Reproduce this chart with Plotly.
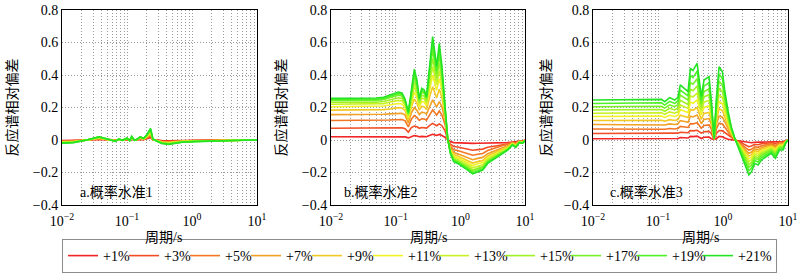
import plotly.graph_objects as go

levels = ["+1%", "+3%", "+5%", "+7%", "+9%", "+11%", "+13%", "+15%", "+17%", "+19%", "+21%"]
colors = ["#F22424", "#F24D24", "#F27624", "#F2A024", "#F2C924", "#F2F224",
          "#C9F224", "#A0F224", "#76F224", "#4DF224", "#24E224"]

panel_titles = ["a.概率水准1", "b.概率水准2", "c.概率水准3"]
x_tick_vals = [0.01, 0.1, 1, 10]
x_tick_labels = ["10<sup>−2</sup>", "10<sup>−1</sup>", "10<sup>0</sup>", "10<sup>1</sup>"]
y_tick_vals = [-0.4, -0.2, 0, 0.2, 0.4, 0.6, 0.8]
y_tick_labels = ["−0.4", "−0.2", "0", "0.2", "0.4", "0.6", "0.8"]

# ---------------- panel a ----------------
period_a = [0.01, 0.015, 0.025, 0.037, 0.05, 0.066, 0.075, 0.085, 0.1, 0.11, 0.118, 0.13, 0.145, 0.16,
            0.18, 0.2, 0.23, 0.25, 0.29, 0.345, 0.44, 0.55, 0.7, 1.1, 2.0, 3.6, 6.0, 10]
a_vals = [
    [-0.004, -0.003, 0.0, 0.004, 0.001, -0.002, 0.001, 0.0, 0.002, -0.001, 0.004, 0.0, 0.001, 0.004, 0.002, 0.006, 0.014, 0.001, -0.002, -0.004, -0.005, -0.004, -0.003, -0.002, -0.001, -0.001, 0.0, 0],
    [-0.006, -0.005, 0.001, 0.006, 0.002, -0.002, 0.002, -0.001, 0.004, -0.001, 0.007, -0.001, 0.002, 0.006, 0.003, 0.009, 0.022, 0.002, -0.002, -0.007, -0.008, -0.006, -0.004, -0.003, -0.002, -0.001, -0.001, 0],
    [-0.008, -0.006, 0.001, 0.008, 0.002, -0.003, 0.002, -0.001, 0.005, -0.002, 0.009, -0.001, 0.002, 0.008, 0.004, 0.012, 0.029, 0.002, -0.003, -0.009, -0.011, -0.008, -0.006, -0.004, -0.002, -0.002, -0.001, 0],
    [-0.01, -0.008, 0.001, 0.01, 0.003, -0.004, 0.003, -0.001, 0.006, -0.002, 0.011, -0.001, 0.003, 0.01, 0.005, 0.015, 0.036, 0.003, -0.004, -0.011, -0.014, -0.01, -0.007, -0.005, -0.003, -0.002, -0.001, 0],
    [-0.012, -0.009, 0.001, 0.012, 0.003, -0.005, 0.003, -0.001, 0.007, -0.002, 0.013, -0.001, 0.003, 0.012, 0.006, 0.017, 0.042, 0.003, -0.005, -0.013, -0.016, -0.012, -0.008, -0.006, -0.003, -0.002, -0.001, 0],
    [-0.013, -0.011, 0.001, 0.013, 0.004, -0.005, 0.004, -0.001, 0.008, -0.003, 0.015, -0.001, 0.004, 0.013, 0.007, 0.02, 0.048, 0.004, -0.005, -0.015, -0.018, -0.013, -0.009, -0.007, -0.004, -0.003, -0.001, 0],
    [-0.015, -0.012, 0.001, 0.015, 0.004, -0.006, 0.004, -0.001, 0.009, -0.003, 0.016, -0.001, 0.004, 0.015, 0.007, 0.022, 0.053, 0.004, -0.006, -0.016, -0.02, -0.015, -0.01, -0.007, -0.004, -0.003, -0.001, 0],
    [-0.016, -0.013, 0.002, 0.016, 0.005, -0.006, 0.005, -0.002, 0.01, -0.003, 0.018, -0.002, 0.005, 0.016, 0.008, 0.024, 0.058, 0.005, -0.006, -0.018, -0.022, -0.016, -0.011, -0.008, -0.005, -0.003, -0.002, 0],
    [-0.018, -0.014, 0.002, 0.018, 0.005, -0.007, 0.005, -0.002, 0.011, -0.004, 0.019, -0.002, 0.005, 0.018, 0.009, 0.026, 0.063, 0.005, -0.007, -0.019, -0.024, -0.018, -0.012, -0.009, -0.005, -0.004, -0.002, 0],
    [-0.019, -0.015, 0.002, 0.019, 0.006, -0.008, 0.006, -0.002, 0.011, -0.004, 0.021, -0.002, 0.006, 0.019, 0.009, 0.028, 0.068, 0.006, -0.008, -0.021, -0.025, -0.019, -0.013, -0.009, -0.006, -0.004, -0.002, 0],
    [-0.02, -0.016, 0.002, 0.02, 0.006, -0.008, 0.006, -0.002, 0.012, -0.004, 0.022, -0.002, 0.006, 0.02, 0.01, 0.03, 0.072, 0.006, -0.008, -0.022, -0.027, -0.02, -0.014, -0.01, -0.006, -0.004, -0.002, 0],
]

# ---------------- panel b ----------------
period_b = [0.01, 0.03, 0.05, 0.065, 0.08, 0.095, 0.11, 0.125, 0.14, 0.157, 0.175, 0.194, 0.213, 0.232,
            0.253, 0.277, 0.3, 0.34, 0.373, 0.405, 0.43, 0.473, 0.52, 0.58, 0.637, 0.7, 0.79, 0.91, 1.09,
            1.3, 1.55, 1.86, 2.22, 2.65, 3.16, 3.78, 4.5, 5.4, 6.4, 7.2, 8.2, 9.2, 10]
b_vals = [
    [0.02, 0.02, 0.02, 0.02, 0.021, 0.021, 0.022, 0.021, 0.019, 0.013, 0.022, 0.027, 0.025, 0.02, 0.022, 0.022, 0.02, 0.029, 0.035, 0.031, 0.028, 0.034, 0.028, 0.016, 0.001,
     -0.01, -0.016, -0.018, -0.019, -0.02, -0.021, -0.02, -0.02, -0.019, -0.019, -0.018, -0.018, -0.016, -0.012, -0.012, -0.008, -0.007, 0],
    [0.072, 0.072, 0.072, 0.073, 0.074, 0.074, 0.075, 0.075, 0.07, 0.048, 0.076, 0.086, 0.081, 0.072, 0.077, 0.076, 0.073, 0.091, 0.102, 0.094, 0.088, 0.099, 0.088, 0.057, 0.003,
     -0.025, -0.04, -0.043, -0.049, -0.056, -0.063, -0.059, -0.056, -0.045, -0.04, -0.035, -0.03, -0.025, -0.015, -0.017, -0.008, -0.008, -0.001],
    [0.12, 0.12, 0.12, 0.121, 0.123, 0.125, 0.127, 0.126, 0.118, 0.08, 0.128, 0.15, 0.139, 0.12, 0.131, 0.129, 0.122, 0.16, 0.185, 0.167, 0.153, 0.178, 0.153, 0.096, 0.005,
     -0.037, -0.06, -0.065, -0.074, -0.083, -0.094, -0.088, -0.083, -0.065, -0.055, -0.046, -0.037, -0.028, -0.014, -0.02, -0.007, -0.009, -0.002],
    [0.156, 0.156, 0.156, 0.158, 0.161, 0.163, 0.165, 0.164, 0.153, 0.104, 0.167, 0.199, 0.183, 0.156, 0.171, 0.168, 0.159, 0.213, 0.247, 0.222, 0.203, 0.237, 0.203, 0.125, 0.006,
     -0.048, -0.077, -0.084, -0.095, -0.107, -0.121, -0.113, -0.107, -0.084, -0.071, -0.06, -0.048, -0.036, -0.018, -0.026, -0.009, -0.012, -0.002],
    [0.184, 0.184, 0.184, 0.187, 0.191, 0.196, 0.199, 0.197, 0.18, 0.122, 0.201, 0.252, 0.227, 0.184, 0.208, 0.204, 0.188, 0.274, 0.328, 0.289, 0.258, 0.313, 0.258, 0.148, 0.007,
     -0.056, -0.09, -0.098, -0.112, -0.126, -0.142, -0.133, -0.126, -0.098, -0.084, -0.07, -0.056, -0.042, -0.021, -0.031, -0.011, -0.014, -0.003],
    [0.205, 0.205, 0.205, 0.209, 0.215, 0.221, 0.225, 0.222, 0.2, 0.136, 0.227, 0.296, 0.263, 0.205, 0.237, 0.232, 0.211, 0.325, 0.399, 0.346, 0.305, 0.378, 0.305, 0.164, 0.008,
     -0.062, -0.1, -0.108, -0.123, -0.139, -0.157, -0.146, -0.139, -0.108, -0.092, -0.077, -0.062, -0.047, -0.023, -0.034, -0.012, -0.015, -0.003],
    [0.22, 0.22, 0.22, 0.224, 0.232, 0.239, 0.244, 0.241, 0.215, 0.146, 0.247, 0.329, 0.29, 0.22, 0.258, 0.252, 0.227, 0.364, 0.452, 0.389, 0.34, 0.427, 0.34, 0.176, 0.009,
     -0.067, -0.109, -0.118, -0.134, -0.152, -0.171, -0.16, -0.152, -0.118, -0.101, -0.084, -0.067, -0.051, -0.025, -0.037, -0.013, -0.016, -0.003],
    [0.232, 0.232, 0.232, 0.237, 0.245, 0.254, 0.26, 0.256, 0.228, 0.155, 0.263, 0.359, 0.313, 0.232, 0.276, 0.269, 0.24, 0.4, 0.502, 0.429, 0.371, 0.473, 0.371, 0.187, 0.009,
     -0.072, -0.117, -0.127, -0.144, -0.163, -0.184, -0.172, -0.163, -0.127, -0.108, -0.091, -0.072, -0.055, -0.027, -0.04, -0.014, -0.018, -0.004],
    [0.243, 0.243, 0.243, 0.249, 0.259, 0.268, 0.275, 0.271, 0.238, 0.162, 0.279, 0.39, 0.336, 0.243, 0.294, 0.286, 0.252, 0.437, 0.555, 0.47, 0.404, 0.521, 0.404, 0.195, 0.01,
     -0.075, -0.122, -0.132, -0.151, -0.17, -0.192, -0.179, -0.17, -0.132, -0.113, -0.095, -0.075, -0.057, -0.029, -0.041, -0.015, -0.018, -0.004],
    [0.25, 0.25, 0.25, 0.256, 0.267, 0.278, 0.285, 0.281, 0.244, 0.166, 0.29, 0.411, 0.353, 0.25, 0.306, 0.297, 0.26, 0.462, 0.592, 0.499, 0.426, 0.555, 0.426, 0.2, 0.01,
     -0.079, -0.128, -0.138, -0.157, -0.178, -0.201, -0.187, -0.178, -0.138, -0.118, -0.099, -0.079, -0.06, -0.03, -0.043, -0.015, -0.019, -0.004],
    [0.256, 0.256, 0.258, 0.263, 0.275, 0.287, 0.295, 0.29, 0.25, 0.17, 0.3, 0.435, 0.37, 0.256, 0.318, 0.308, 0.267, 0.492, 0.636, 0.533, 0.452, 0.595, 0.452, 0.205, 0.01,
     -0.082, -0.133, -0.144, -0.164, -0.185, -0.209, -0.195, -0.185, -0.144, -0.123, -0.103, -0.082, -0.062, -0.031, -0.045, -0.016, -0.02, -0.004],
]

# ---------------- panel c ----------------
period_c = [0.01, 0.05, 0.09, 0.1, 0.113, 0.127, 0.151, 0.18, 0.203, 0.22, 0.258, 0.29, 0.315, 0.345, 0.4,
            0.427, 0.464, 0.51, 0.55, 0.61, 0.66, 0.73, 0.79, 0.87, 0.98, 1.06, 1.2, 1.34, 1.5, 1.8, 2.03,
            2.3, 2.5, 2.75, 3.07, 3.46, 3.9, 4.6, 5.5, 6.4, 7.4, 8.4, 9.2, 10]
c_vals = [
    [0.008, 0.008, 0.008, 0.008, 0.008, 0.007, 0.009, 0.008, 0.009, 0.015, 0.013, 0.012, 0.022, 0.021, 0.024, 0.017, 0.009, 0.017, 0.017, 0.018, 0.008, 0.003, 0.008, 0.022, 0.02, 0.012, 0.005, 0.002, 0.0,
     -0.005, -0.01, -0.014, -0.018, -0.017, -0.014, -0.015, -0.013, -0.012, -0.011, -0.012, -0.01, -0.009, -0.004, 0],
    [0.04, 0.04, 0.04, 0.04, 0.04, 0.038, 0.041, 0.04, 0.042, 0.048, 0.046, 0.045, 0.058, 0.056, 0.06, 0.051, 0.042, 0.051, 0.052, 0.053, 0.04, 0.002, 0.04, 0.058, 0.056, 0.046, 0.028, 0.013, 0.003,
     -0.012, -0.023, -0.033, -0.041, -0.037, -0.027, -0.029, -0.023, -0.02, -0.016, -0.021, -0.012, -0.012, -0.004, 0],
    [0.068, 0.068, 0.068, 0.068, 0.069, 0.066, 0.071, 0.068, 0.071, 0.084, 0.08, 0.077, 0.101, 0.099, 0.106, 0.089, 0.072, 0.089, 0.091, 0.093, 0.068, 0.003, 0.069, 0.103, 0.098, 0.079, 0.049, 0.023, 0.004,
     -0.018, -0.036, -0.05, -0.062, -0.057, -0.042, -0.045, -0.036, -0.03, -0.024, -0.033, -0.018, -0.018, -0.006, 0],
    [0.095, 0.095, 0.095, 0.096, 0.096, 0.092, 0.099, 0.095, 0.099, 0.119, 0.114, 0.109, 0.146, 0.142, 0.154, 0.127, 0.1, 0.127, 0.13, 0.132, 0.095, 0.004, 0.096, 0.148, 0.14, 0.111, 0.068, 0.032, 0.006,
     -0.024, -0.047, -0.066, -0.082, -0.074, -0.055, -0.059, -0.047, -0.039, -0.031, -0.043, -0.024, -0.024, -0.008, 0],
    [0.12, 0.12, 0.12, 0.121, 0.121, 0.116, 0.125, 0.12, 0.126, 0.153, 0.145, 0.138, 0.188, 0.183, 0.199, 0.163, 0.127, 0.163, 0.167, 0.17, 0.12, 0.005, 0.121, 0.192, 0.181, 0.142, 0.085, 0.04, 0.008,
     -0.029, -0.057, -0.08, -0.099, -0.09, -0.066, -0.071, -0.057, -0.047, -0.038, -0.052, -0.029, -0.029, -0.009, 0],
    [0.145, 0.145, 0.145, 0.146, 0.147, 0.139, 0.152, 0.145, 0.153, 0.187, 0.177, 0.168, 0.233, 0.226, 0.247, 0.2, 0.154, 0.2, 0.205, 0.21, 0.145, 0.006, 0.147, 0.237, 0.223, 0.173, 0.103, 0.048, 0.009,
     -0.033, -0.066, -0.094, -0.116, -0.105, -0.078, -0.083, -0.066, -0.056, -0.044, -0.061, -0.033, -0.033, -0.011, 0],
    [0.165, 0.165, 0.165, 0.166, 0.167, 0.158, 0.173, 0.165, 0.174, 0.216, 0.205, 0.194, 0.272, 0.265, 0.289, 0.233, 0.177, 0.233, 0.239, 0.244, 0.165, 0.007, 0.167, 0.278, 0.261, 0.199, 0.117, 0.055, 0.011,
     -0.038, -0.076, -0.108, -0.133, -0.121, -0.089, -0.095, -0.076, -0.064, -0.051, -0.07, -0.038, -0.038, -0.012, 0],
    [0.185, 0.185, 0.185, 0.186, 0.188, 0.177, 0.195, 0.185, 0.196, 0.245, 0.232, 0.219, 0.312, 0.303, 0.332, 0.265, 0.199, 0.265, 0.272, 0.279, 0.185, 0.008, 0.188, 0.318, 0.298, 0.225, 0.131, 0.062, 0.012,
     -0.043, -0.086, -0.122, -0.15, -0.137, -0.101, -0.108, -0.086, -0.072, -0.057, -0.079, -0.043, -0.043, -0.014, 0],
    [0.205, 0.205, 0.205, 0.207, 0.208, 0.196, 0.216, 0.205, 0.218, 0.276, 0.26, 0.245, 0.353, 0.343, 0.377, 0.298, 0.221, 0.298, 0.307, 0.314, 0.205, 0.008, 0.208, 0.361, 0.337, 0.252, 0.144, 0.068, 0.013,
     -0.048, -0.096, -0.136, -0.168, -0.152, -0.112, -0.12, -0.096, -0.08, -0.064, -0.088, -0.048, -0.048, -0.016, 0],
    [0.225, 0.225, 0.225, 0.227, 0.229, 0.215, 0.238, 0.225, 0.24, 0.307, 0.288, 0.271, 0.397, 0.384, 0.424, 0.333, 0.243, 0.333, 0.343, 0.352, 0.225, 0.009, 0.229, 0.405, 0.378, 0.28, 0.158, 0.075, 0.015,
     -0.055, -0.108, -0.153, -0.189, -0.172, -0.127, -0.136, -0.108, -0.091, -0.072, -0.099, -0.055, -0.055, -0.018, 0],
    [0.246, 0.246, 0.246, 0.248, 0.25, 0.236, 0.261, 0.246, 0.263, 0.339, 0.318, 0.298, 0.441, 0.427, 0.472, 0.369, 0.267, 0.369, 0.38, 0.39, 0.246, 0.01, 0.25, 0.451, 0.42, 0.308, 0.174, 0.082, 0.016,
     -0.062, -0.123, -0.174, -0.215, -0.195, -0.144, -0.154, -0.123, -0.103, -0.082, -0.113, -0.062, -0.062, -0.02, 0],
]

# ---------------- figure ----------------
W, H = 800, 273
SERIF = "Liberation Serif"
CJK = "Noto Sans CJK SC"
GRID = dict(showgrid=True, gridcolor="#9a9a9a", griddash="1px,2px", gridwidth=1)
# legend entry widths (px): shorter labels take less room, last one holds its text
legend_widths = [16, 16, 16, 16, 16, 21, 21, 21, 21, 21, 33]

fig = go.Figure()
panels = [(period_a, a_vals), (period_b, b_vals), (period_c, c_vals)]
for p, (per, vals) in enumerate(panels):
    sfx = "" if p == 0 else str(p + 1)
    for i, lv in enumerate(levels):
        fig.add_trace(go.Scatter(
            x=per, y=vals[i], mode="lines", name=lv,
            line=dict(color=colors[i], width=1.6),
            showlegend=(p == 0), legendwidth=legend_widths[i],
            xaxis="x" + sfx, yaxis="y" + sfx, hoverinfo="skip"))

x_px = [(62, 257), (331, 525), (593, 788)]
y_top, y_bot = 10, 205
layout = dict(
    width=W, height=H, margin=dict(l=0, r=0, t=0, b=0, autoexpand=False),
    paper_bgcolor="white", plot_bgcolor="white",
    font=dict(family=SERIF, size=14, color="black"),
    legend=dict(orientation="h", x=62 / W, xanchor="left", y=0.0, yanchor="bottom",
                bordercolor="#8c8c8c", borderwidth=1, bgcolor="white",
                font=dict(family=SERIF, size=14, color="black"),
                itemwidth=30, tracegroupgap=0),
    annotations=[],
)
for p in range(3):
    sfx = "" if p == 0 else str(p + 1)
    x0, x1 = x_px[p]
    layout["xaxis" + sfx] = dict(
        type="log", range=[-2, 1], domain=[x0 / W, x1 / W], anchor="y" + sfx,
        tickmode="array", tickvals=x_tick_vals, ticktext=x_tick_labels, ticks="",
        ticklabelstandoff=3,
        minor=dict(dtick="D1", ticks="", **GRID), **GRID,
        showline=True, mirror=True, linecolor="black", linewidth=1, zeroline=False,
        automargin=False, tickfont=dict(family=SERIF, size=14, color="black"))
    layout["yaxis" + sfx] = dict(
        range=[-0.4, 0.8], domain=[1 - y_bot / H, 1 - y_top / H], anchor="x" + sfx,
        tickmode="array", tickvals=y_tick_vals, ticktext=y_tick_labels, ticks="", **GRID,
        showline=True, mirror=True, linecolor="black", linewidth=1, zeroline=False,
        automargin=False, tickfont=dict(family=SERIF, size=14, color="black"))

ytitle_x = [11, 280, 545]
xtitle_x = [163, 428, 700]
label_x = [78, 342, 608]
for p in range(3):
    layout["annotations"].append(dict(
        text="反应谱相对偏差", x=ytitle_x[p] / W, y=1 - 107.5 / H, xref="paper", yref="paper",
        textangle=-90, showarrow=False, xanchor="center", yanchor="middle",
        font=dict(family=CJK, size=14, color="black")))
    layout["annotations"].append(dict(
        text="周期/s", x=xtitle_x[p] / W, y=1 - 237 / H, xref="paper", yref="paper",
        showarrow=False, xanchor="center", yanchor="middle",
        font=dict(family=SERIF + ", " + CJK, size=14, color="black")))
    layout["annotations"].append(dict(
        text=panel_titles[p], x=label_x[p] / W, y=1 - 192 / H, xref="paper", yref="paper",
        showarrow=False, xanchor="left", yanchor="middle",
        font=dict(family=SERIF + ", " + CJK, size=14, color="black")))

fig.update_layout(**layout)
fig.write_html("out.html", config={"displayModeBar": False},
               post_script="document.body.style.margin='0px';")
